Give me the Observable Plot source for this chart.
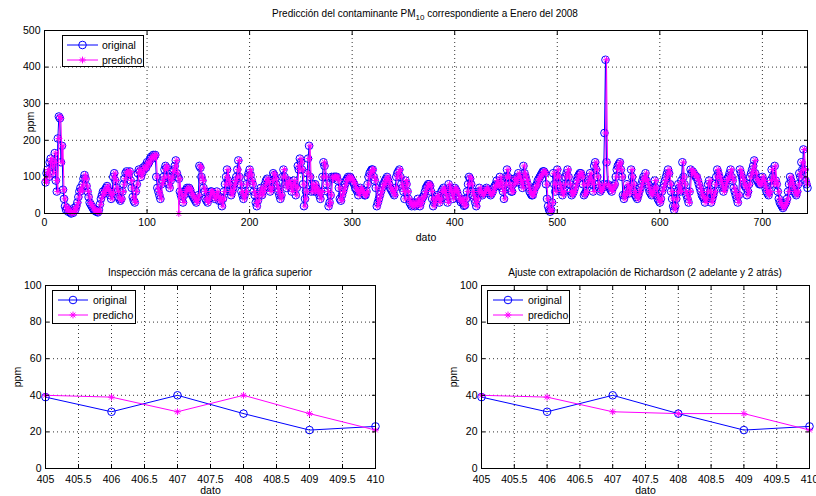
<!DOCTYPE html>
<html><head><meta charset="utf-8">
<script src="https://cdn.jsdelivr.net/npm/d3@7"></script>
<script src="https://cdn.jsdelivr.net/npm/@observablehq/plot@0.6"></script>
<style>
body{margin:0;background:#fff;font-family:"Liberation Sans",Arial,sans-serif;}
#fig{position:relative;width:816px;height:496px;overflow:hidden;background:#fff;}
.panel{position:absolute;}
.title{position:absolute;font-size:10px;white-space:nowrap;transform:translateX(-50%);color:#000;line-height:1;}
.title sub{font-size:8px;vertical-align:-3px;line-height:0;}
.legend{position:absolute;border:1px solid #000;background:#fff;box-sizing:border-box;}
.legend span{position:absolute;font-size:10.5px;line-height:1;transform:translateY(-50%);white-space:nowrap;}
.legend svg{position:absolute;left:0;top:0;}
</style></head><body><div id="fig"></div><script>
// ---------- DATA ----------
const original = [
85,110,120,100,140,150,130,110,140,165,
90,60,205,265,260,140,185,65,40,20,
10,15,5,8,3,0,5,2,15,10,
20,30,45,60,70,62,80,95,105,95,
75,60,45,30,25,20,15,10,8,6,
5,3,10,25,40,50,60,55,65,70,
75,65,60,50,40,55,100,110,90,70,
60,45,40,35,40,60,80,95,110,115,
110,105,115,90,70,45,35,30,60,80,
110,120,115,100,110,125,120,130,125,140,
135,140,150,155,150,160,155,160,100,70,
60,50,40,80,90,100,120,130,125,100,
80,70,90,100,115,120,130,145,110,100,
95,60,50,40,30,50,60,65,70,65,
70,65,55,50,45,40,35,30,40,50,
130,125,100,90,70,60,40,35,30,40,
50,60,60,55,45,40,50,60,45,35,
45,35,20,40,60,80,100,120,90,80,
60,50,60,70,80,90,100,120,145,100,
80,60,50,40,50,60,80,100,110,120,
105,90,80,60,50,30,20,35,50,60,
70,50,60,70,80,90,95,85,70,60,
70,90,110,105,95,80,70,60,50,40,
50,100,120,100,80,70,85,90,80,70,
60,80,90,75,50,70,130,120,150,140,
120,80,20,40,60,110,150,185,100,60,
80,70,60,80,70,60,60,50,40,60,
100,140,130,100,80,60,20,30,50,100,
95,100,100,100,100,90,70,40,35,50,
60,70,80,90,95,100,95,100,95,90,
85,80,70,65,60,50,60,70,65,60,
55,50,50,60,80,100,110,115,120,120,
100,90,70,20,30,40,50,60,70,80,
80,90,95,100,90,80,70,65,60,55,
50,70,100,110,115,120,100,80,70,60,
40,90,80,60,40,30,25,20,30,25,
20,30,25,40,30,20,30,40,45,50,
60,70,75,80,80,75,60,40,20,30,
40,45,50,40,30,40,60,65,70,60,
50,40,30,80,70,60,50,40,60,70,
65,60,50,40,39,31,40,30,21,23,
40,60,80,100,95,80,60,50,40,30,
20,40,60,70,60,55,50,55,60,65,
70,65,60,55,50,55,60,70,75,80,
90,80,75,100,85,70,60,40,80,100,
120,100,80,70,60,60,80,95,90,85,
100,110,100,90,80,70,130,110,100,90,
80,70,60,55,50,50,60,70,75,80,
90,95,100,105,110,115,115,110,80,40,
20,10,5,10,30,110,80,60,100,120,
100,80,70,60,50,60,80,100,110,120,
100,80,60,50,55,60,70,80,90,100,
105,110,110,100,80,50,55,60,80,90,
100,110,90,80,60,130,140,120,100,80,
70,60,65,70,80,220,420,140,80,75,
70,65,60,70,75,80,100,120,130,135,
140,120,100,50,40,50,60,80,70,55,
70,120,100,80,60,50,45,40,50,60,
70,80,90,100,95,110,90,80,70,60,
55,50,60,70,90,70,50,40,35,30,
40,60,70,80,90,100,110,120,110,80,
60,40,20,10,20,40,60,80,70,60,
90,140,100,80,60,50,40,30,60,120,
110,115,110,105,100,100,90,80,70,60,
50,45,40,30,40,60,80,90,60,30,
40,50,60,80,100,120,110,100,90,80,
70,60,70,80,90,95,100,110,120,100,
90,70,60,50,40,30,50,120,110,100,
90,80,75,70,50,60,80,100,110,120,
130,145,110,95,90,85,80,80,90,100,
90,80,70,60,55,50,60,90,120,100,
80,130,90,80,60,40,30,25,20,15,
20,25,30,40,60,80,100,90,80,70,
60,55,50,60,80,110,100,140,120,175,
120,90,80,70];
const predicho = [
90,85,110,120,100,140,150,130,110,140,
165,90,60,205,265,260,140,185,65,40,
20,10,15,5,8,3,0,5,2,15,
10,20,30,45,60,70,62,80,95,105,
95,75,60,45,30,25,20,15,10,8,
6,5,3,10,25,40,50,60,55,65,
70,75,65,60,50,40,55,100,110,90,
70,60,45,40,35,40,60,80,95,110,
115,110,105,115,90,70,45,35,30,60,
80,110,120,115,100,110,125,120,130,125,
140,135,140,150,155,150,160,155,160,100,
70,60,50,40,80,90,100,120,130,125,
100,80,70,90,100,115,120,130,145,110,
0,95,60,50,40,30,50,60,65,70,
65,70,65,55,50,45,40,35,30,40,
50,130,125,100,90,70,60,40,35,30,
40,50,60,60,55,45,40,50,60,45,
35,45,35,20,40,60,80,100,120,90,
80,60,50,60,70,80,90,100,120,145,
100,80,60,50,40,50,60,80,100,110,
120,105,90,80,60,50,30,20,35,50,
60,70,50,60,70,80,90,95,85,70,
60,70,90,110,105,95,80,70,60,50,
40,50,100,120,100,80,70,85,90,80,
70,60,80,90,75,50,70,130,120,150,
140,120,80,20,40,60,110,150,185,100,
60,80,70,60,80,70,60,60,50,40,
60,100,140,130,100,80,60,20,30,50,
100,95,100,100,100,100,90,70,40,35,
50,60,70,80,90,95,100,95,100,95,
90,85,80,70,65,60,50,60,70,65,
60,55,50,50,60,80,100,110,115,120,
120,100,90,70,20,30,40,50,60,70,
80,80,90,95,100,90,80,70,65,60,
55,50,70,100,110,115,120,100,80,70,
60,40,90,80,60,40,30,25,20,30,
25,20,30,25,40,30,20,30,40,45,
50,60,70,75,80,80,75,60,40,20,
30,40,45,50,40,30,40,60,65,70,
60,50,40,30,80,70,60,50,40,60,
70,65,60,50,40,39,31,40,30,21,
23,40,60,80,100,95,80,60,50,40,
30,20,40,60,70,60,55,50,55,60,
65,70,65,60,55,50,55,60,70,75,
80,90,80,75,100,85,70,60,40,80,
100,120,100,80,70,60,60,80,95,90,
85,100,110,100,90,80,70,130,110,100,
90,80,70,60,55,50,50,60,70,75,
80,90,95,100,105,110,115,115,110,80,
40,20,10,5,10,30,110,80,60,100,
120,100,80,70,60,50,60,80,100,110,
120,100,80,60,50,55,60,70,80,90,
100,105,110,110,100,80,50,55,60,80,
90,100,110,90,80,60,130,140,120,100,
80,70,60,65,70,80,220,420,140,80,
75,70,65,60,70,75,80,100,120,130,
135,140,120,100,50,40,50,60,80,70,
55,70,120,100,80,60,50,45,40,50,
60,70,80,90,100,95,110,90,80,70,
60,55,50,60,70,90,70,50,40,35,
30,40,60,70,80,90,100,110,120,110,
80,60,40,20,10,20,40,60,80,70,
60,90,140,100,80,60,50,40,30,60,
120,110,115,110,105,100,100,90,80,70,
60,50,45,40,30,40,60,80,90,60,
30,40,50,60,80,100,120,110,100,90,
80,70,60,70,80,90,95,100,110,120,
100,90,70,60,50,40,30,50,120,110,
100,90,80,75,70,50,60,80,100,110,
120,130,145,110,95,90,85,80,80,90,
100,90,80,70,60,55,50,60,90,120,
100,80,130,90,80,60,40,30,25,20,
15,20,25,30,40,60,80,100,90,80,
70,60,55,50,60,80,110,100,140,120,
175,120,90,80];

const topXTicks = [0,100,200,300,400,500,600,700];
const topYTicks = [0,100,200,300,400,500];

const zoomX = [405,406,407,408,409,410];
const zoomOriginal = [39,31,40,30,21,23];
const zoomPredichoLeft = [40,39,31,40,30,21];
const zoomPredichoRight = [40,39,31,30,30,21];
const zoomXTicks = [405,405.5,406,406.5,407,407.5,408,408.5,409,409.5,410];
const zoomYTicks = [0,20,40,60,80,100];

const titleTop = 'Predicción del contaminante PM<sub>10</sub> correspondiente a Enero del 2008';
const titleLeft = 'Inspección más cercana de la gráfica superior';
const titleRight = 'Ajuste con extrapolación de Richardson (2 adelante y 2 atrás)';
const seriesNames = ["original","predicho"];

// ---------- STYLE ----------
const BLUE = "#0000ff", MAG = "#ff00ff";
const star8 = {draw(c, size){ const r = Math.sqrt(size/Math.PI); const d = r*Math.SQRT1_2;
  c.moveTo(-r,0);c.lineTo(r,0);c.moveTo(0,-r);c.lineTo(0,r);
  c.moveTo(-d,-d);c.lineTo(d,d);c.moveTo(-d,d);c.lineTo(d,-d);}};
const fig = document.getElementById("fig");

function panel({xs, orig, pred, xDomain, yDomain, xTicks, yTicks, width, height, ml, mr, mt, mb, yLabelOffset, xLabelOffset, xPad, fmt}) {
  const grid = {stroke:"#000", strokeOpacity:1, strokeWidth:0.8, strokeDasharray:"1,3"};
  const tk = {tickSize: -4, text: null, label: null, strokeWidth: 1};
  return Plot.plot({
    width, height, marginLeft: ml, marginRight: mr, marginTop: mt, marginBottom: mb,
    style: {fontFamily: '"Liberation Sans", Arial, sans-serif', fontSize: "10.5px", color:"#000", background:"#fff", overflow:"visible"},
    x: {domain: xDomain},
    y: {domain: yDomain},
    marks: [
      Plot.gridX(xTicks, grid),
      Plot.gridY(yTicks, grid),
      Plot.line(orig, {x: (d,i) => xs[i], y: d => d, stroke: BLUE, strokeWidth: 1}),
      Plot.dot(orig, {x: (d,i) => xs[i], y: d => d, r: 3.8, stroke: BLUE, fill: "none", strokeWidth: 1}),
      Plot.line(pred, {x: (d,i) => xs[i], y: d => d, stroke: MAG, strokeWidth: 1}),
      Plot.dot(pred, {x: (d,i) => xs[i], y: d => d, r: 3.4, symbol: star8, stroke: MAG, fill: "none", strokeWidth: 1}),
      Plot.axisX(xTicks, {tickSize: 0, tickPadding: xPad, tickFormat: fmt, label: "dato", labelAnchor: "center", labelOffset: xLabelOffset, labelArrow: "none"}),
      Plot.axisY(yTicks, {tickSize: 0, tickPadding: 4, label: "ppm", labelAnchor: "center", labelOffset: yLabelOffset, labelArrow: "none"}),
      Plot.axisX(xTicks, {...tk, anchor: "bottom"}),
      Plot.axisX(xTicks, {...tk, anchor: "top"}),
      Plot.axisY(yTicks, {...tk, anchor: "left"}),
      Plot.axisY(yTicks, {...tk, anchor: "right"}),
      Plot.frame({stroke: "#000", strokeWidth: 1})
    ]
  });
}

function place(el, left, top) { el.classList.add("panel"); el.style.left = left+"px"; el.style.top = top+"px"; fig.appendChild(el); }
function title(html, cx, top) { const d = document.createElement("div"); d.className = "title"; d.innerHTML = html; d.style.left = cx+"px"; d.style.top = top+"px"; fig.appendChild(d); }
function legend(left, top, w, h, x0, x1, tx, rows) {
  const d = document.createElement("div"); d.className = "legend";
  Object.assign(d.style, {left:left+"px", top:top+"px", width:w+"px", height:h+"px"});
  const svg = d3.create("svg").attr("width", w).attr("height", h);
  const mx = (x0+x1)/2;
  rows.forEach((ry, i) => {
    const col = i === 0 ? BLUE : MAG;
    svg.append("line").attr("x1", x0).attr("x2", x1).attr("y1", ry).attr("y2", ry).attr("stroke", col);
    if (i === 0) svg.append("circle").attr("cx", mx).attr("cy", ry).attr("r", 3.8).attr("fill","none").attr("stroke", col);
    else svg.append("path").attr("transform", `translate(${mx},${ry})`).attr("d", d3.symbol().type(star8).size(Math.PI*3.4*3.4)()).attr("fill","none").attr("stroke", col);
    const s = document.createElement("span"); s.textContent = seriesNames[i]; s.style.left = tx+"px"; s.style.top = ry+"px"; d.appendChild(s);
  });
  d.appendChild(svg.node());
  fig.appendChild(d);
}

// ---------- TOP ----------
const topXs = original.map((d,i) => i+1);
place(panel({xs: topXs, orig: original, pred: predicho, xDomain:[0,744], yDomain:[0,500], xTicks: topXTicks, yTicks: topYTicks,
  width: 816, height: 246, ml: 44, mr: 9, mt: 30, mb: 33, yLabelOffset: 18, xLabelOffset: 27, xPad: 5, fmt: d => String(d)}), 0, 0);
title(titleTop, 425, 9);
legend(62, 35, 82, 32, 4, 35, 39, [9, 24]);

// ---------- BOTTOM LEFT ----------
place(panel({xs: zoomX, orig: zoomOriginal, pred: zoomPredichoLeft, xDomain:[405,410], yDomain:[0,100], xTicks: zoomXTicks, yTicks: zoomYTicks,
  width: 410, height: 246, ml: 45, mr: 35, mt: 35, mb: 28, yLabelOffset: 32, xLabelOffset: 25, xPad: 7, fmt: d => String(d)}), 0, 250);
title(titleLeft, 210, 268);
legend(52, 290, 84, 34, 5, 35, 40, [9, 24]);

// ---------- BOTTOM RIGHT ----------
place(panel({xs: zoomX, orig: zoomOriginal, pred: zoomPredichoRight, xDomain:[405,410], yDomain:[0,100], xTicks: zoomXTicks, yTicks: zoomYTicks,
  width: 406, height: 246, ml: 71, mr: 7, mt: 35, mb: 28, yLabelOffset: 32, xLabelOffset: 25, xPad: 7, fmt: d => String(d)}), 410, 250);
title(titleRight, 645, 268);
legend(487, 290, 83, 34, 5, 35, 40, [9, 24]);
</script></body></html>
